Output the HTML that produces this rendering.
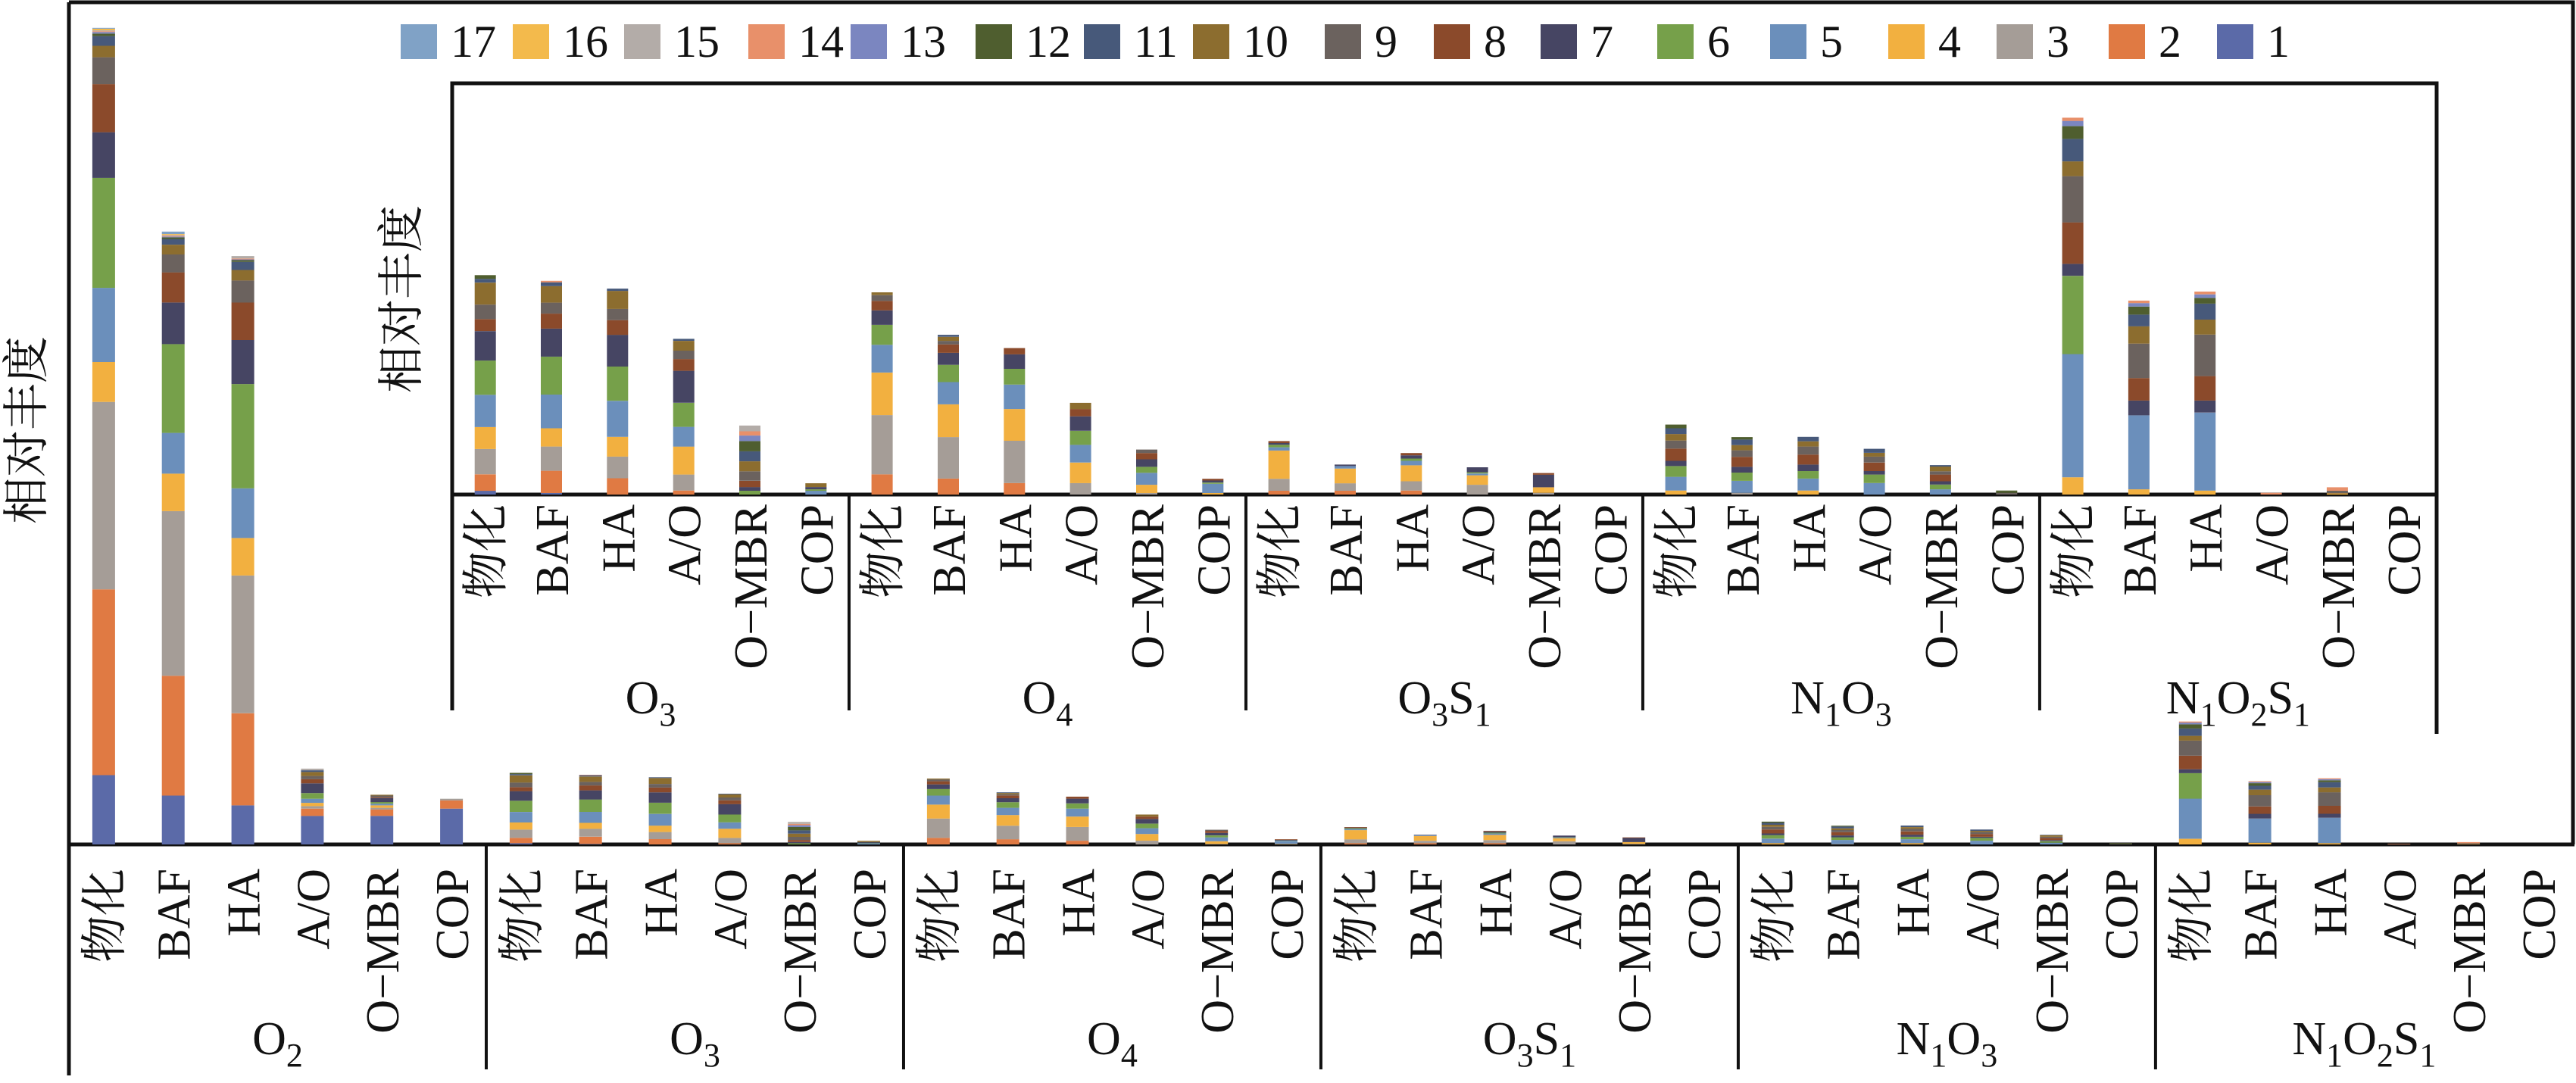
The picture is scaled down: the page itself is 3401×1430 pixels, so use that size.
<!DOCTYPE html>
<html><head><meta charset="utf-8">
<style>
html,body{margin:0;padding:0;background:#fff;}
svg{display:block;}
text{font-family:"Liberation Serif","Noto Serif CJK SC",serif;fill:#111;}
</style></head>
<body>
<svg id="chart" xmlns="http://www.w3.org/2000/svg" width="3401" height="1430" viewBox="0 0 3401 1430">
  <g id="frames" stroke="#111" stroke-width="5" fill="none">
    <path d="M91,3 H3397 V1115 M91,3 V1420"/>
    <line x1="89" y1="1115" x2="3399" y2="1115"/>
    <path d="M597,938 V110 H3217 V969"/>
    <line x1="597" y1="653" x2="3217" y2="653"/>
  </g>
  <g id="bars"></g>
  <g id="labels"></g>
  <g id="legend"></g>
  <text transform="translate(56,568) rotate(-90)" text-anchor="middle" font-size="62">相对丰度</text>
  <text transform="translate(551,395) rotate(-90)" text-anchor="middle" font-size="62">相对丰度</text>
</svg>
<script>
const categories = ["物化","BAF","HA","A/O","O\u2212MBR","COP"];
const groups = ["O2","O3","O4","O3S1","N1O3","N1O2S1"];
const legendLabels = ["17","16","15","14","13","12","11","10","9","8","7","6","5","4","3","2","1"];
const s1 = [8.5,6.0,4.8,3.5,3.5,4.4, 0.15,0.06,0,0,0,0, 0,0,0,0,0,0, 0,0,0,0,0,0, 0,0,0,0,0,0, 0,0,0,0,0,0];
const s2 = [22.8,14.7,11.3,0.9,0.8,1.0, 0.66,0.89,0.65,0.16,0,0, 0.81,0.64,0.46,0,0,0, 0.15,0.15,0.16,0,0,0, 0,0,0,0,0,0, 0,0,0,0,0,0];
const s3 = [23.0,20.2,16.9,0.3,0.2,0.2, 1.01,0.97,0.87,0.64,0,0, 2.37,1.66,1.69,0.46,0.06,0, 0.48,0.3,0.37,0.39,0.07,0, 0,0.07,0,0,0,0, 0,0,0,0,0,0];
const s4 = [4.9,4.6,4.6,0.4,0.3,0, 0.88,0.73,0.79,1.12,0,0, 1.70,1.31,1.27,0.82,0.33,0.06, 1.13,0.59,0.64,0.38,0.22,0, 0.16,0,0.16,0,0,0, 0.69,0.21,0.16,0,0.05,0];
const s5 = [9.1,5.0,6.1,0.5,0.2,0, 1.29,1.35,1.44,0.79,0,0.15, 1.11,0.89,0.98,0.71,0.48,0.37, 0.13,0.1,0.18,0.07,0,0, 0.55,0.48,0.48,0.46,0.21,0, 4.93,2.96,3.12,0,0,0];
const s6 = [13.5,10.9,12.8,0.7,0.2,0, 1.37,1.52,1.37,0.96,0.15,0.06, 0.8,0.69,0.63,0.56,0.24,0.05, 0.1,0,0.09,0.05,0,0, 0.43,0.33,0.3,0.34,0.19,0, 3.13,0,0,0,0,0];
const s7 = [5.6,5.1,5.4,1.2,0.5,0, 1.18,1.12,1.27,1.28,0.15,0.09, 0.58,0.48,0.58,0.58,0.3,0.08, 0.07,0.06,0.13,0.2,0.5,0, 0.21,0.23,0.26,0.14,0.13,0, 0.48,0.59,0.48,0,0,0];
const s8 = [5.9,3.7,4.6,0.5,0.1,0, 0.48,0.6,0.59,0.47,0.25,0, 0.38,0.34,0.25,0.29,0.25,0.07, 0.08,0,0.09,0,0.07,0, 0.49,0.4,0.4,0.34,0.27,0, 1.66,0.9,0.98,0,0,0];
const s9 = [3.3,2.2,2.7,0.4,0.2,0, 0.58,0.44,0.45,0.34,0.38,0, 0.23,0.14,0,0,0.14,0, 0,0,0,0,0,0, 0.32,0.26,0.32,0.24,0.13,0.07, 1.85,1.38,1.66,0,0.1,0];
const s10 = [1.4,1.2,1.3,0.5,0.1,0, 0.88,0.66,0.72,0.39,0.4,0.15, 0.11,0.16,0,0.25,0,0, 0,0,0,0,0,0, 0.26,0.21,0.21,0.15,0.19,0, 0.59,0.69,0.6,0,0,0];
const s11 = [1.2,0.7,1.0,0.2,0,0, 0.15,0.15,0.09,0.08,0.4,0, 0,0.08,0,0,0,0, 0,0,0,0,0,0, 0.23,0.22,0.18,0.16,0.06,0, 0.9,0.47,0.64,0,0,0];
const s12 = [0.3,0.2,0.2,0,0,0, 0.15,0,0,0,0.41,0, 0,0,0,0,0,0, 0,0,0,0,0,0, 0.15,0.1,0,0,0,0.09, 0.51,0.32,0.23,0,0,0];
const s13 = [0.2,0.1,0.1,0,0,0, 0,0,0,0,0.22,0, 0,0,0,0,0,0, 0,0,0,0,0,0, 0,0,0,0,0,0, 0.21,0.14,0.14,0,0,0];
const s14 = [0.1,0.1,0.1,0,0,0, 0,0.06,0,0,0.17,0, 0,0,0,0,0,0, 0,0,0,0,0,0, 0,0,0,0,0,0, 0.13,0.1,0.11,0.07,0.14,0];
const s15 = [0.1,0.1,0.3,0.2,0,0, 0,0,0,0,0.23,0, 0,0,0,0,0,0, 0,0,0,0,0,0, 0,0,0,0,0,0, 0,0,0,0,0,0];
const s16 = [0.2,0.1,0,0,0,0, 0,0,0,0,0,0, 0,0,0,0,0,0, 0,0,0,0,0,0, 0,0,0,0,0,0, 0,0,0,0,0,0];
const s17 = [0.1,0.3,0,0,0,0, 0,0,0,0,0,0, 0,0,0,0,0,0, 0,0,0,0,0,0, 0,0,0,0,0,0, 0,0,0,0,0,0];
const series = [s1,s2,s3,s4,s5,s6,s7,s8,s9,s10,s11,s12,s13,s14,s15,s16,s17];
const colors = ["#5b6aa8","#e07a43","#a59d97","#f2b040","#6b8fbb","#76a04a","#464563","#8b4a2b","#6b625e","#8c6d2f","#47597a","#4f5e2f","#7b86c0","#e8906a","#b3aca8","#f3ba4c","#80a2c6"];

const NS = "http://www.w3.org/2000/svg";
function mk(tag, attrs, parent){const e=document.createElementNS(NS,tag);for(const k in attrs)e.setAttribute(k,attrs[k]);parent.appendChild(e);return e;}

const mainX0 = 91, mainCat = 91.83, mainBase = 1115, mainPx = 10.76;
const insX0 = 597, insCat = 87.33, insBase = 653, insPx = 33.0;
function mainX(i){return mainX0 + (i+0.5)*mainCat;}
function mainY(v){return mainBase - v*mainPx;}
function insX(i){return insX0 + (i+0.5)*insCat;}
function insY(v){return insBase - v*insPx;}

const barsG = document.getElementById('bars');
const labelsG = document.getElementById('labels');
const nBars = groups.length*categories.length;

function drawStack(idx, xf, yf, w, prefix){
  let cum = 0;
  for(let s=0;s<series.length;s++){
    const v = series[s][idx];
    if(!v) continue;
    const y1 = yf(cum), y2 = yf(cum+v);
    const r = mk('rect',{x:(xf-w/2).toFixed(1),y:y2.toFixed(1),width:w,height:(y1-y2).toFixed(1),fill:colors[s]},barsG);
    
    
    cum += v;
  }
}
for(let i=0;i<nBars;i++){
  drawStack(i, mainX(i), mainY, 30, 'main');
  if(i>=6) drawStack(i, insX(i-6), insY, 28, 'inset');
}

function groupLabel(name, cx, y, pfx){
  const t = mk('text',{x:cx,y:y,'text-anchor':'middle','font-size':62},labelsG);
  
  
  const parts = name.match(/[A-Z]\d*/g);
  let shifted = false;
  parts.forEach(p=>{
    const a = {};
    if(shifted){a.dy = -16; shifted=false;}
    const ts = mk('tspan',a,t); ts.textContent = p[0];
    if(p.length>1){const sb = mk('tspan',{'font-size':44,dy:16},t); sb.textContent=p.slice(1); shifted=true;}
  });
}
function catLabel(text, x, ytop, pfx, i){
  const t = mk('text',{transform:'translate('+(x+22).toFixed(1)+','+ytop+') rotate(-90)','text-anchor':'end','font-size':62},labelsG);
  t.textContent = text;
  
  
}
for(let i=0;i<nBars;i++) catLabel(categories[i%6], mainX(i), 1147, 'main', i);
for(let g=0;g<groups.length;g++){
  groupLabel(groups[g], mainX0 + (g+0.5)*6*mainCat, 1392, 'main');
  if(g>0){const l=mk('line',{x1:mainX0+g*6*mainCat,y1:1115,x2:mainX0+g*6*mainCat,y2:1412,stroke:'#111','stroke-width':4},labelsG);
    
    }
}
for(let i=0;i<nBars-6;i++) catLabel(categories[i%6], insX(i), 666, 'inset', i);
for(let g=1;g<groups.length;g++){
  groupLabel(groups[g], insX0 + (g-0.5)*6*insCat, 942, 'inset');
  if(g>1){const l=mk('line',{x1:insX0+(g-1)*6*insCat,y1:653,x2:insX0+(g-1)*6*insCat,y2:938,stroke:'#111','stroke-width':4},labelsG);
    
    }
}
const legendG = document.getElementById('legend');
const legendXs = [529,677,824,988,1123,1288,1431,1575,1749,1893,2034,2188,2337,2493,2636,2784,2927];
legendLabels.forEach((lab,k)=>{
  const sIdx = parseInt(lab,10)-1;
  const g = mk('g',{},legendG);
  
  
  mk('rect',{x:legendXs[k],y:32,width:48,height:46,fill:colors[sIdx]},g);
  const t = mk('text',{x:legendXs[k]+66,y:75,'font-size':60},g);
  t.textContent = lab;
});
</script>
</body></html>
